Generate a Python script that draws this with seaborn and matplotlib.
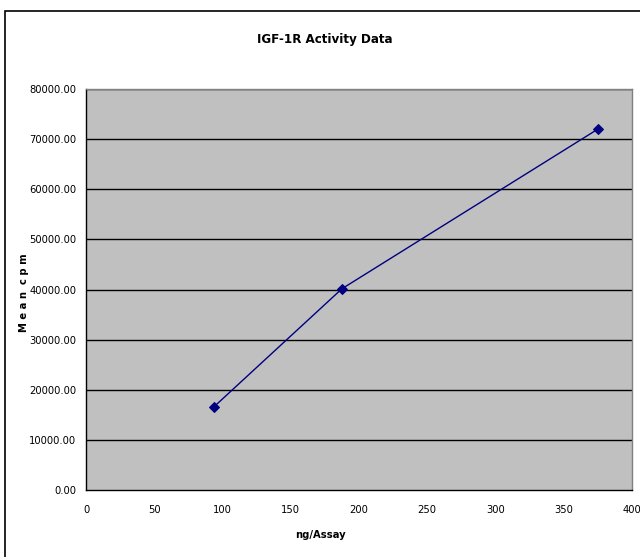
import matplotlib
matplotlib.use("Agg")
import matplotlib.pyplot as plt
import matplotlib.patches as mpatches
from matplotlib import font_manager as fm
import seaborn as sns
import pandas as pd

ng_per_assay = [93.75, 187.5, 375.0]
mean_cpm = [16600.0, 40150.0, 72000.0]
x_ticks = [0, 50, 100, 150, 200, 250, 300, 350, 400]
y_ticks = [0, 10000, 20000, 30000, 40000, 50000, 60000, 70000, 80000]

sns.set_style("white")

cond_path = None
for f in fm.fontManager.ttflist:
    if "Condensed" in f.fname and "DejaVuSans" in f.fname.replace(" ", ""):
        cond_path = f.fname
if cond_path:
    plt.rcParams['font.family'] = ['DejaVu Sans']
    plt.rcParams['font.stretch'] = 'condensed'
    sz_tick, sz_title, sz_lab = 8, 9.5, 8
else:
    plt.rcParams['font.family'] = ['Liberation Sans', 'DejaVu Sans']
    sz_tick, sz_title, sz_lab = 7, 9, 7.5
plt.rcParams['text.color'] = 'black'

df = pd.DataFrame({"ng/Assay": ng_per_assay, "Mean cpm": mean_cpm})

fig = plt.figure(figsize=(6.4, 5.57), dpi=100)
W, H = 640, 557
ax = fig.add_axes([86 / W, (H - 490) / H, 546 / W, 401 / H])
ax.set_facecolor("#C0C0C0")

# outer chart border
fig.patches.append(mpatches.Rectangle((5 / W, -0.05), 1.2, (H - 11) / H + 0.05,
                                      transform=fig.transFigure, fill=False,
                                      edgecolor="black", linewidth=1.2))

for yv in y_ticks[1:]:
    ax.axhline(yv, color="black", linewidth=1.0, zorder=1)

sns.lineplot(data=df, x="ng/Assay", y="Mean cpm", ax=ax, color="#000080",
             linewidth=1.0, marker="D", markersize=5, markeredgecolor="#000080",
             zorder=3)

ax.set_xlim(0, 400)
ax.set_ylim(0, 80000)
ax.set_xticks(x_ticks)
ax.set_xticklabels([str(v) for v in x_ticks], fontsize=sz_tick)
ax.set_yticks(y_ticks)
ax.set_yticklabels([f"{v:.2f}" for v in y_ticks], fontsize=sz_tick)
ax.tick_params(direction="out", length=4, width=1, colors="black",
               labelcolor="black", pad=3)
ax.tick_params(axis="x", pad=7)

for s in ["top", "right"]:
    ax.spines[s].set_color("#808080")
    ax.spines[s].set_linewidth(1)
for s in ["left", "bottom"]:
    ax.spines[s].set_color("black")
    ax.spines[s].set_linewidth(1)

ax.set_ylabel("")
ax.set_xlabel("")
fig.text(0.5, 1 - 535 / H, "ng/Assay", ha="center", va="center",
         fontsize=sz_lab, fontweight="bold")
fig.text(24 / W, 1 - 293 / H, "M e a n  c p m", rotation=90, ha="center",
         va="center", fontsize=sz_lab, fontweight="bold")
fig.text(325 / W, (H - 40) / H, "IGF-1R Activity Data", ha="center", va="center",
         fontsize=sz_title, fontweight="bold")

fig.savefig("out.png", dpi=100)
